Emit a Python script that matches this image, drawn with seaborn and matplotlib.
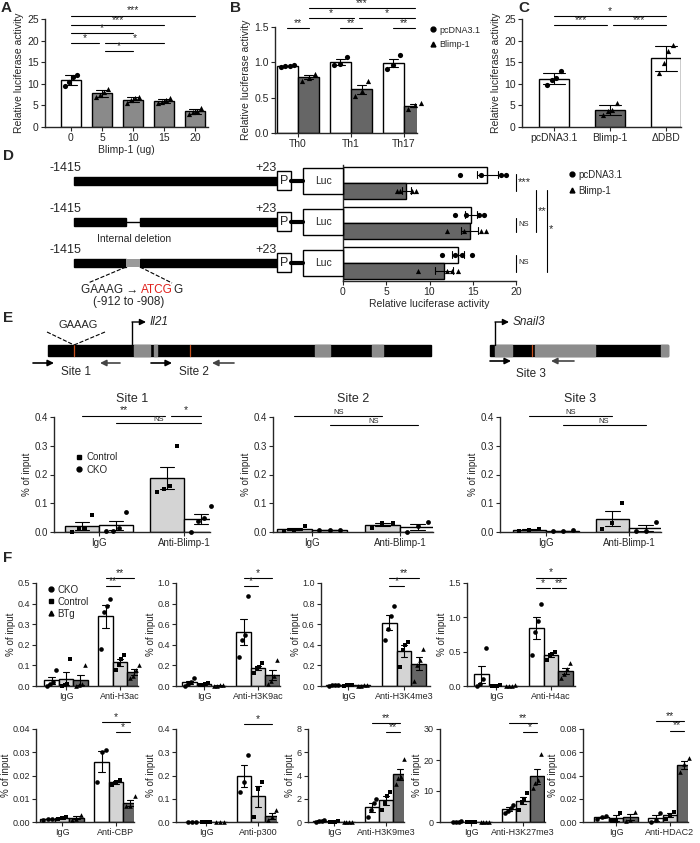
import numpy as np
import pandas as pd
import matplotlib
matplotlib.use("Agg")
import matplotlib.pyplot as plt
from matplotlib.lines import Line2D
from matplotlib.patches import Rectangle
import seaborn as sns

sns.set_style("ticks")
plt.rcParams['font.family'] = ['Liberation Sans', 'DejaVu Sans']
plt.rcParams['axes.linewidth'] = 1.0

W, H = 700, 843
fig = plt.figure(figsize=(7, 8.43), dpi=100)

# ---------------- DATA ----------------
A_doses = ['0', '5', '10', '15', '20']
A_points = [[9.6, 10.4, 11.6, 12.0], [6.9, 7.4, 8.0, 8.9], [5.6, 6.2, 6.6, 7.0],
            [5.6, 5.9, 6.2, 6.7], [3.0, 3.4, 3.8, 4.4]]

B_conditions = ['Th0', 'Th1', 'Th17']
B_pcdna = [[0.93, 0.95, 0.95, 0.96], [0.96, 0.97, 1.08], [0.90, 0.96, 1.10]]
B_blimp = [[0.74, 0.78, 0.84], [0.52, 0.60, 0.74], [0.34, 0.40, 0.42]]

C_groups = ['pcDNA3.1', 'Blimp-1', 'ΔDBD']
C_points = [[9.8, 10.8, 11.3, 13.0], [2.8, 3.6, 4.0, 5.6], [12.5, 14.8, 17.5, 19.0]]

D_constructs = ['full', 'deletion', 'mutant']
D_pcdna = [[13.5, 16.0, 18.3, 18.9], [13.0, 14.2, 15.7, 16.3], [11.5, 13.0, 13.8, 14.9]]
D_blimp = [[6.2, 6.6, 8.0, 8.4], [12.0, 14.0, 16.0, 16.5], [8.7, 12.0, 12.6, 13.3]]

E_groups = ['IgG', 'Anti-Blimp-1']
E_hues = ['Control', 'CKO']
E_site1 = {'Control': [[0.0, 0.01, 0.015, 0.06], [0.14, 0.15, 0.16, 0.30]],
           'CKO': [[0.005, 0.005, 0.015, 0.07], [0.0, 0.04, 0.05, 0.09]]}
E_site2 = {'Control': [[0.005, 0.007, 0.02], [0.015, 0.03, 0.032]],
           'CKO': [[0.006, 0.007, 0.008], [0.0, 0.02, 0.036]]}
E_site3 = {'Control': [[0.004, 0.008, 0.01], [0.01, 0.03, 0.1]],
           'CKO': [[0.002, 0.004, 0.006], [0.002, 0.005, 0.035]]}

F_hues = ['CKO', 'Control', 'BTg']
F_H3ac = [[[0.0, 0.01, 0.02, 0.08], [0.0, 0.005, 0.01, 0.13], [0.0, 0.005, 0.01, 0.1]],
          [[0.18, 0.36, 0.39, 0.42], [0.08, 0.1, 0.13, 0.15], [0.04, 0.05, 0.08, 0.1]]]
F_H3K9ac = [[[0.0, 0.02, 0.04, 0.08], [0.005, 0.01, 0.02, 0.025], [0.0, 0.003, 0.005, 0.01]],
            [[0.28, 0.45, 0.5, 0.87], [0.13, 0.17, 0.18, 0.22], [0.02, 0.05, 0.1, 0.25]]]
F_H3K4me3 = [[[0.003, 0.005, 0.008, 0.01], [0.003, 0.005, 0.006, 0.008], [0.003, 0.004, 0.006, 0.008]],
             [[0.45, 0.55, 0.68, 0.78], [0.18, 0.35, 0.4, 0.43], [0.05, 0.2, 0.25, 0.36]]]
F_H4ac = [[[0.0, 0.03, 0.1, 0.55], [0.0, 0.005, 0.005, 0.01], [0.0, 0.004, 0.005, 0.01]],
          [[0.45, 0.78, 0.95, 1.2], [0.38, 0.45, 0.47, 0.5], [0.12, 0.17, 0.25, 0.33]]]
F_CBP = [[[0.001, 0.0012, 0.0015], [0.0013, 0.0017, 0.002], [0.001, 0.0012, 0.003]],
         [[0.017, 0.03, 0.031], [0.016, 0.017, 0.018], [0.007, 0.007, 0.011]]]
F_p300 = [[[0.0, 0.001, 0.0], [0.0, 0.001, 0.0], [0.0, 0.001, 0.0]],
          [[0.13, 0.17, 0.29], [0.02, 0.14, 0.17], [0.01, 0.02, 0.05]]]
F_H3K9me3 = [[[0.02, 0.05, 0.1, 0.2], [0.01, 0.02, 0.03, 0.05], [0.01, 0.02, 0.02, 0.03]],
             [[0.4, 1.0, 1.6, 2.0], [1.0, 1.6, 2.2, 2.6], [3.3, 3.8, 3.9, 5.4]]]
F_H3K27me3 = [[[0.05, 0.1, 0.1, 0.2], [0.05, 0.1, 0.1, 0.15], [0.05, 0.05, 0.1, 0.1]],
              [[3.0, 3.6, 4.6, 5.6], [3.9, 6.5, 7.5, 9.3], [11.0, 12.5, 13.5, 22.0]]]
F_HDAC2 = [[[0.003, 0.004, 0.005], [0.001, 0.001, 0.008], [0.001, 0.002, 0.009]],
           [[0.0, 0.002, 0.008], [0.003, 0.006, 0.009], [0.043, 0.05, 0.055]]]

WHITE, LGREY, MGREY, DGREY = 'white', '#d4d4d4', '#8a8a8a', '#666666'
TICK = 7.5


def px_axes(x0, x1, ytop, ybot):
    return fig.add_axes([x0 / W, 1 - ybot / H, (x1 - x0) / W, (ybot - ytop) / H])


def set_xlim_px(ax, x0, x1, pos0, unit):
    ax.set_xlim((x0 - pos0) / unit, (x1 - pos0) / unit)


def jit(n, w=0.07):
    return np.linspace(-w, w, n) if n > 1 else np.zeros(1)


def sig(ax, xa, xb, y, text, fs=7.5):
    ax.plot([xa, xb], [y, y], color='k', lw=0.8, clip_on=False)
    ax.text((xa + xb) / 2, y, text, ha='center', va='bottom', fontsize=fs if text != 'NS' else 5.5,
            clip_on=False)


def style(ax, ts=TICK):
    sns.despine(ax=ax)
    ax.tick_params(labelsize=ts, length=3, width=0.8, pad=1.5)
    ax.set_xlabel('')


def long_df(groups, hues, values):
    rows = []
    for hi, h in enumerate(hues):
        for gi, g in enumerate(groups):
            for v in values[hi][gi]:
                rows.append((g, h, v))
    return pd.DataFrame(rows, columns=['group', 'hue', 'val'])


def grouped(ax, groups, hues, values, palette, markers, err='se', ms=14):
    df = long_df(groups, hues, values)
    sns.barplot(data=df, x='group', y='val', hue='hue', order=groups, hue_order=hues,
                palette=palette, errorbar=err, capsize=0.35, edgecolor='k', linewidth=1,
                err_kws={'linewidth': 0.8, 'color': 'k'}, legend=False, ax=ax)
    nh = len(hues)
    bw = 0.8 / nh
    for hi, h in enumerate(hues):
        off = -0.4 + bw * (hi + 0.5)
        for gi, g in enumerate(groups):
            v = values[hi][gi]
            ax.scatter(gi + off + jit(len(v), bw * 0.3), v, marker=markers[hi], s=ms,
                       color='k', zorder=5, linewidths=0, clip_on=False)


# ---------------- Panel A ----------------
axA = px_axes(45, 208, 19, 127)
dfA = pd.DataFrame([(d, v) for d, pts in zip(A_doses, A_points) for v in pts], columns=['dose', 'val'])
palA = {d: (WHITE if i == 0 else MGREY) for i, d in enumerate(A_doses)}
sns.barplot(data=dfA, x='dose', y='val', hue='dose', order=A_doses, palette=palA, errorbar='sd',
            capsize=0.4, width=0.65, edgecolor='k', linewidth=1, err_kws={'linewidth': 0.8, 'color': 'k'},
            legend=False, ax=axA)
for i, pts in enumerate(A_points):
    axA.scatter(i + jit(len(pts), 0.2), pts, marker='o' if i == 0 else '^', s=14, color='k', zorder=5,
                linewidths=0)
axA.set_ylim(0, 25)
axA.set_yticks([0, 5, 10, 15, 20, 25])
set_xlim_px(axA, 45, 208, 71, 31)
style(axA)
axA.set_xlabel('Blimp-1 (ug)', fontsize=7.5, labelpad=1)
axA.set_ylabel('Relative luciferase activity', fontsize=7.5, labelpad=2)
sig(axA, 0, 4, 25.8, '***'); sig(axA, 0, 3, 23.7, '***'); sig(axA, 0, 2, 21.7, '*')
sig(axA, 0, 0.9, 19.4, '*'); sig(axA, 1.1, 3, 19.4, '*'); sig(axA, 1.1, 2, 17.5, '*')

# ---------------- Panel B ----------------
axB = px_axes(275, 417, 27, 133)
grouped(axB, B_conditions, ['pcDNA3.1', 'Blimp-1'], [B_pcdna, B_blimp],
        {'pcDNA3.1': WHITE, 'Blimp-1': DGREY}, ['o', '^'])
axB.set_ylim(0, 1.5)
axB.set_yticks([0, 0.5, 1.0, 1.5])
axB.set_yticklabels(['0.0', '0.5', '1.0', '1.5'])
set_xlim_px(axB, 275, 417, 298, 53)
style(axB)
axB.set_ylabel('Relative luciferase activity', fontsize=7.5, labelpad=2)
sig(axB, 0.2, 2.2, 1.77, '***', fs=7); sig(axB, 0.2, 1.05, 1.63, '*'); sig(axB, 1.15, 2.2, 1.63, '*')
for g in range(3):
    sig(axB, g - 0.2, g + 0.2, 1.49, '**')
fig.legend([Line2D([], [], marker='o', ls='', color='k', ms=3.5), Line2D([], [], marker='^', ls='', color='k', ms=3.5)],
           ['pcDNA3.1', 'Blimp-1'], loc='upper left', bbox_to_anchor=(424 / W, 1 - 22 / H), frameon=False,
           fontsize=6.5, handletextpad=0.1, borderaxespad=0, labelspacing=0.6, handlelength=1.2)

# ---------------- Panel C ----------------
axC = px_axes(522, 681, 19, 127)
dfC = pd.DataFrame([(g, v) for g, pts in zip(C_groups, C_points) for v in pts], columns=['grp', 'val'])
sns.barplot(data=dfC, x='grp', y='val', hue='grp', order=C_groups,
            palette={'pcDNA3.1': WHITE, 'Blimp-1': DGREY, 'ΔDBD': WHITE}, errorbar='sd', capsize=0.4,
            width=0.55, edgecolor='k', linewidth=1, err_kws={'linewidth': 0.8, 'color': 'k'}, legend=False, ax=axC)
for i, pts in enumerate(C_points):
    axC.scatter(i + jit(len(pts), 0.12), pts, marker='o' if i == 0 else '^', s=14, color='k', zorder=5,
                linewidths=0)
axC.set_ylim(0, 25)
axC.set_yticks([0, 5, 10, 15, 20, 25])
set_xlim_px(axC, 522, 681, 554, 56)
style(axC)
axC.set_ylabel('Relative luciferase activity', fontsize=7.5, labelpad=2)
sig(axC, 0, 2, 25.7, '*'); sig(axC, 0, 0.95, 23.7, '***'); sig(axC, 1.05, 2, 23.7, '***')

# ---------------- Panel D ----------------
axD = px_axes(343, 516, 165, 281)
rowsD = [(c, h, v) for h, vals in (('pcDNA3.1', D_pcdna), ('Blimp-1', D_blimp))
         for c, pts in zip(D_constructs, vals) for v in pts]
dfD = pd.DataFrame(rowsD, columns=['construct', 'hue', 'val'])
sns.barplot(data=dfD, y='construct', x='val', hue='hue', order=D_constructs, hue_order=['pcDNA3.1', 'Blimp-1'],
            palette={'pcDNA3.1': WHITE, 'Blimp-1': DGREY}, orient='h', errorbar='se', capsize=0.35,
            edgecolor='k', linewidth=1, err_kws={'linewidth': 0.8, 'color': 'k'}, legend=False, ax=axD)
for hi, (vals, mk) in enumerate(((D_pcdna, 'o'), (D_blimp, '^'))):
    for ci, pts in enumerate(vals):
        axD.scatter(pts, np.full(len(pts), ci - 0.2 + 0.4 * hi), marker=mk, s=14, color='k', zorder=5,
                    linewidths=0, clip_on=False)
axD.set_xlim(0, 20)
axD.set_ylim(2.45, -0.45)
axD.set_yticks([])
axD.set_ylabel('')
sns.despine(ax=axD)
axD.tick_params(labelsize=TICK, length=3, width=0.8, pad=1.5)
axD.set_xlabel('Relative luciferase activity', fontsize=7.5, labelpad=1)
fig.legend([Line2D([], [], marker='o', ls='', color='k', ms=3.5), Line2D([], [], marker='^', ls='', color='k', ms=3.5)],
           ['pcDNA3.1', 'Blimp-1'], loc='upper left', bbox_to_anchor=(562 / W, 1 - 166 / H), frameon=False,
           fontsize=7, handletextpad=0.1, borderaxespad=0, labelspacing=0.6, handlelength=1.2)

# ---------------- Panel E plots ----------------
E_boxes = [(54, 210, 99, 85, E_site1, 'Site 1'), (273, 433, 312, 88, E_site2, 'Site 2'),
           (500, 661, 546, 83, E_site3, 'Site 3')]
E_axes = []
for x0, x1, p0, u, vals, title in E_boxes:
    ax = px_axes(x0, x1, 417, 532)
    grouped(ax, E_groups, E_hues, [vals['Control'], vals['CKO']], {'Control': LGREY, 'CKO': WHITE}, ['s', 'o'],
            ms=12)
    ax.set_ylim(0, 0.4)
    ax.set_yticks([0, 0.1, 0.2, 0.3, 0.4])
    ax.set_yticklabels(['0.0', '0.1', '0.2', '0.3', '0.4'])
    set_xlim_px(ax, x0, x1, p0, u)
    style(ax, 7)
    ax.set_ylabel('% of input', fontsize=7, labelpad=2)
    fig.text((x0 + x1) / 2 / W, 1 - 399 / H, title, ha='center', va='center', fontsize=9)
    E_axes.append(ax)
sig(E_axes[0], -0.2, 0.78, 0.405, '**'); sig(E_axes[0], 0.85, 1.2, 0.405, '*'); sig(E_axes[0], 0.2, 1.2, 0.379, 'NS')
for ax in E_axes[1:]:
    sig(ax, -0.2, 0.8, 0.405, 'NS'); sig(ax, 0.2, 1.2, 0.372, 'NS')
E_axes[0].legend([Line2D([], [], marker='s', ls='', color='k', ms=3.5), Line2D([], [], marker='o', ls='', color='k', ms=3.5)],
                 ['Control', 'CKO'], loc='upper left', bbox_to_anchor=(0.1, 0.73), frameon=False, fontsize=7,
                 handletextpad=0.1, borderaxespad=0, labelspacing=0.3, handlelength=1.2)

# ---------------- Panel F ----------------
F_specs = [
    (F_H3ac, 'Anti-H3ac', (36, 138, 66, 54), 'r1', [0, 0.1, 0.2, 0.3, 0.4, 0.5], '%.1f',
     [(0, 2, 0.525, '**'), (0, 1, 0.486, '**')]),
    (F_H3K9ac, 'Anti-H3K9ac', (176, 280, 204, 54), 'r1', [0, 0.2, 0.4, 0.6, 0.8, 1.0], '%.1f',
     [(0, 2, 1.05, '*'), (0, 1, 0.97, '*')]),
    (F_H3K4me3, 'Anti-H3K4me3', (321, 430, 348, 56), 'r1', [0, 0.2, 0.4, 0.6, 0.8, 1.0], '%.1f',
     [(0, 2, 1.05, '**'), (0, 1, 0.97, '*')]),
    (F_H4ac, 'Anti-H4ac', (467, 575, 496, 55), 'r1', [0, 0.5, 1.0, 1.5], '%.1f',
     [(0, 2, 1.58, '*'), (0, 0.95, 1.43, '*'), (1.05, 2, 1.43, '**')]),
    (F_CBP, 'Anti-CBP', (36, 134, 62, 54), 'r2', [0, 0.01, 0.02, 0.03, 0.04], '%.2f',
     [(0, 2, 0.0431, '*'), (1, 2, 0.0388, '*')]),
    (F_p300, 'Anti-p300', (176, 277, 206, 52), 'r2', [0, 0.1, 0.2, 0.3, 0.4], '%.1f',
     [(0, 2, 0.422, '*')]),
    (F_H3K9me3, 'Anti-H3K9me3', (308, 404, 334, 52), 'r2', [0, 2, 4, 6, 8], '%d',
     [(0, 2, 8.5, '**'), (1, 2, 7.75, '**')]),
    (F_H3K27me3, 'Anti-H3K27me3', (440, 545, 471, 52), 'r2', [0, 10, 20, 30], '%d',
     [(0, 2, 31.9, '**'), (1, 2, 29.1, '*')]),
    (F_HDAC2, 'Anti-HDAC2', (583, 688, 616, 54), 'r2', [0, 0.02, 0.04, 0.06, 0.08], '%.2f',
     [(0, 2, 0.0871, '**'), (1, 2, 0.0787, '**')]),
]
for i, (vals, name, (x0, x1, p0, u), row, yt, fmt, sigs) in enumerate(F_specs):
    yt0, yb0 = (583, 686) if row == 'r1' else (729, 822)
    ax = px_axes(x0, x1, yt0, yb0)
    groups = ['IgG', name]
    per_hue = [[vals[0][h], vals[1][h]] for h in range(3)]
    grouped(ax, groups, F_hues, per_hue, {'CKO': WHITE, 'Control': LGREY, 'BTg': DGREY}, ['o', 's', '^'], ms=11)
    ax.set_ylim(0, yt[-1])
    ax.set_yticks(yt)
    ax.set_yticklabels([fmt % t for t in yt])
    set_xlim_px(ax, x0, x1, p0, u)
    style(ax, 6.5)
    ax.set_ylabel('% of input', fontsize=7, labelpad=1)
    bw = 0.8 / 3
    for a, b, y, t in sigs:
        sig(ax, 1 - bw + bw * a, 1 - bw + bw * b, y, t)
    if i == 0:
        ax.legend([Line2D([], [], marker=m, ls='', color='k', ms=3.5) for m in ['o', 's', '^']], F_hues,
                  loc='upper left', bbox_to_anchor=(0.05, 1.02), frameon=False, fontsize=7,
                  handletextpad=0.1, borderaxespad=0, labelspacing=0.2, handlelength=1.2)

# ---------------- Schematics overlay ----------------
ov = fig.add_axes([0, 0, 1, 1])
ov.set_xlim(0, W)
ov.set_ylim(H, 0)
ov.axis('off')

for lab, x, y in [('A', 1, 8), ('B', 230, 8), ('C', 518, 8), ('D', 3, 156), ('E', 3, 318), ('F', 3, 558)]:
    ov.text(x, y, lab, fontsize=11, fontweight='bold', va='center', ha='left')

# D constructs
for r, yc in enumerate([181, 222, 263]):
    if r == 0:
        ov.add_patch(Rectangle((74, yc - 4), 203, 8, color='k'))
    else:
        ov.add_patch(Rectangle((74, yc - 4), 52, 8, color='k'))
        ov.add_patch(Rectangle((140, yc - 4), 137, 8, color='k'))
        if r == 1:
            ov.plot([126, 140], [yc, yc], color='k', lw=1)
        else:
            ov.add_patch(Rectangle((126, yc - 4), 14, 8, facecolor='#9a9a9a', edgecolor='none', hatch='xxxx'))
    ov.add_patch(Rectangle((277, yc - 10), 14, 19, facecolor='white', edgecolor='k', lw=1))
    ov.text(284, yc, 'P', ha='center', va='center', fontsize=9)
    ov.plot([291, 303], [yc, yc], color='k', lw=3)
    ov.add_patch(Rectangle((303, yc - 13), 40, 26, facecolor='white', edgecolor='k', lw=1))
    ov.text(323, yc, 'Luc', ha='center', va='center', fontsize=7.5)
    ov.text(50, yc - 7, '-1415', ha='left', va='bottom', fontsize=9)
    ov.text(277, yc - 7, '+23', ha='right', va='bottom', fontsize=9)
ov.text(134, 239, 'Internal deletion', ha='center', va='center', fontsize=7.5)
ov.plot([126, 88], [267, 283], color='k', lw=0.8, ls='--')
ov.plot([140, 172], [267, 283], color='k', lw=0.8, ls='--')
t1 = ov.text(141, 290, 'GAAAG → ', ha='right', va='center', fontsize=8.5)
t2 = ov.text(141, 290, 'ATCG', ha='left', va='center', fontsize=8.5, color='#e0201b')
fig.canvas.draw()
bb = t2.get_window_extent(fig.canvas.get_renderer())
xend = ov.transData.inverted().transform((bb.x1, bb.y0))[0]
ov.text(xend, 290, 'G', ha='left', va='center', fontsize=8.5)
ov.text(129, 302, '(-912 to -908)', ha='center', va='center', fontsize=8.5)
# D significance
ov.plot([516, 516], [174, 191], color='k', lw=0.8); ov.text(518, 182, '***', fontsize=8, va='center')
ov.plot([516, 516], [218, 232], color='k', lw=0.8); ov.text(518, 224, 'NS', fontsize=5.5, va='center')
ov.plot([516, 516], [255, 272], color='k', lw=0.8); ov.text(518, 263, 'NS', fontsize=5.5, va='center')
ov.plot([536, 536], [190, 232], color='k', lw=0.8); ov.text(538, 211, '**', fontsize=8, va='center')
ov.plot([547, 547], [190, 272], color='k', lw=0.8); ov.text(549, 229, '*', fontsize=8, va='center')

# E gene maps
def gene(x0, x1, segs, oranges):
    ov.add_patch(Rectangle((x0, 345), x1 - x0, 11, color='k'))
    for a, b in segs:
        ov.add_patch(Rectangle((a, 345), b - a, 11, color='#8c8c8c'))
    for o in oranges:
        ov.plot([o, o], [345, 356], color='#c8501e', lw=0.9)

gene(48, 431, [(134, 150), (154, 157), (315, 330), (372, 379), (380, 383)], [74, 190])
gene(490, 668, [(495, 512), (535, 595), (661, 668)], [532])

def tss(x, label):
    ov.plot([x, x], [345, 322], color='k', lw=1)
    ov.annotate('', xy=(x + 14, 322), xytext=(x, 322),
                arrowprops=dict(arrowstyle='-|>', color='k', lw=1, mutation_scale=9, shrinkA=0, shrinkB=0))
    ov.text(x + 18, 322, label, fontsize=8.5, style='italic', va='center')

tss(132, 'Il21')
tss(495, 'Snail3')
ov.text(78, 330, 'GAAAG', fontsize=8, ha='center', va='bottom')
ov.plot([47, 74], [332, 345], color='k', lw=0.8, ls='--')
ov.plot([105, 74], [332, 345], color='k', lw=0.8, ls='--')

def primer(xa, xb, y, col):
    ov.annotate('', xy=(xb, y), xytext=(xa, y),
                arrowprops=dict(arrowstyle='-|>', color=col, lw=1.2, mutation_scale=9, shrinkA=0, shrinkB=0))

primer(33, 54, 363, 'k'); primer(120, 100, 363, '#444444'); ov.text(76, 372, 'Site 1', fontsize=8.5, ha='center', va='center')
primer(151, 172, 363, 'k'); primer(234, 212, 363, '#444444'); ov.text(194, 372, 'Site 2', fontsize=8.5, ha='center', va='center')
primer(490, 511, 361, 'k'); primer(574, 551, 361, '#444444'); ov.text(531, 374, 'Site 3', fontsize=8.5, ha='center', va='center')

fig.savefig('out.png', dpi=100)
